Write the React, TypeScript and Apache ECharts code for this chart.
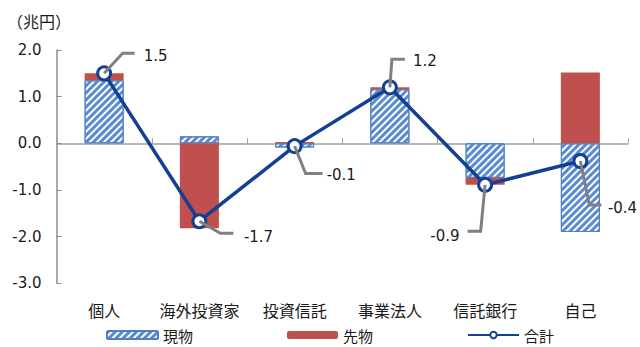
import React, { useEffect, useRef } from 'react';
import * as echarts from 'echarts';

const categories = ['個人', '海外投資家', '投資信託', '事業法人', '信託銀行', '自己'];
const spotValues = [1.35, 0.15, -0.09, 1.16, -0.74, -1.9];
const futuresValues = [0.15, -1.82, 0.03, 0.04, -0.15, 1.52];
const totalValues = [1.5, -1.67, -0.06, 1.2, -0.89, -0.38];
const seriesNames = ['現物', '先物', '合計'];
const unitLabel = '（兆円）';
const yMin = -3;
const yMax = 2;
const yInterval = 1;

// leader line layout per label (pixel offsets from the point): corner dx/dy, end dx, text dx/dy, align
const leaderLayout = [
  { cx: 18.5, cy: -20, ex: 30.5, tx: 39.5, ty: -17, align: 'left' },
  { cx: 21, cy: 12, ex: 34, tx: 44.5, ty: 16, align: 'left' },
  { cx: 11, cy: 27.5, ex: 28, tx: 32, ty: 29, align: 'left' },
  { cx: 2, cy: -28, ex: 15, tx: 23, ty: -26, align: 'left' },
  { cx: -4.5, cy: 46.5, ex: -17.5, tx: -25.5, ty: 51, align: 'right' },
  { cx: 9, cy: 44, ex: 21, tx: 27.5, ty: 46.7, align: 'left' },
];

const NAVY = '#143F93';
const RED = '#C0504D';
const BLUE = '#4F81BD';
const TEXT = '#1a1a1a';
const CJK = '"Noto Sans CJK JP", sans-serif';
const NUM = '"DejaVu Sans", "Noto Sans CJK JP", sans-serif';

export default function App() {
  const ref = useRef<HTMLDivElement>(null);
  useEffect(() => {
    if (!ref.current) return;
    const chart = echarts.init(ref.current, undefined, { renderer: 'svg' });
    const option: any = {
      animation: false,
      backgroundColor: '#ffffff',
      title: {
        text: unitLabel,
        left: 7,
        top: 13,
        padding: 0,
        textStyle: { fontSize: 16, fontWeight: 'normal', color: TEXT, fontFamily: CJK },
      },
      grid: { left: 56.5, right: 12, top: 50, bottom: 63.7, containLabel: false },
      legend: {
        data: seriesNames,
        left: 106,
        top: 327,
        padding: 0,
        itemWidth: 51,
        itemHeight: 8,
        itemGap: 94,
        textStyle: { fontSize: 15, lineHeight: 16, color: TEXT, fontFamily: CJK },
      },
      xAxis: [
        {
          type: 'category',
          data: categories,
          position: 'bottom',
          axisLine: { show: false, onZero: false },
          axisTick: { show: false },
          axisLabel: { interval: 0, margin: 19, fontSize: 16, color: TEXT, fontFamily: CJK },
        },
        {
          type: 'category',
          data: categories,
          position: 'bottom',
          axisLine: { show: true, onZero: true, lineStyle: { color: '#a0a0a0', width: 1.5 } },
          axisTick: { show: true, inside: true, interval: 0, length: 5, lineStyle: { color: '#a0a0a0', width: 1 } },
          axisLabel: { show: false },
        },
      ],
      yAxis: {
        type: 'value',
        min: yMin,
        max: yMax,
        interval: yInterval,
        axisLine: { show: true, lineStyle: { color: '#8c8c8c', width: 1.5 } },
        axisTick: { show: true, inside: true, length: 5, lineStyle: { color: '#8c8c8c' } },
        splitLine: { show: false },
        axisLabel: {
          margin: 15,
          fontSize: 15,
          color: TEXT,
          fontFamily: NUM,
          formatter: (v: number) => v.toFixed(1),
        },
      },
      series: [
        {
          name: seriesNames[0],
          type: 'bar',
          stack: 'total',
          barWidth: '41%',
          xAxisIndex: 0,
          data: spotValues,
          itemStyle: {
            color: '#ffffff',
            borderColor: BLUE,
            borderWidth: 1,
            decal: {
              symbol: 'rect',
              symbolSize: 1,
              color: '#5a8ad0',
              dashArrayX: [1, 0],
              dashArrayY: [2.5, 2],
              rotation: -Math.PI / 4,
            },
          },
        },
        {
          name: seriesNames[1],
          type: 'bar',
          stack: 'total',
          barWidth: '41%',
          xAxisIndex: 0,
          data: futuresValues,
          itemStyle: { color: RED },
        },
        {
          name: seriesNames[2],
          type: 'line',
          xAxisIndex: 0,
          data: totalValues,
          color: NAVY,
          symbol: 'circle',
          symbolSize: 13,
          lineStyle: { color: NAVY, width: 3.5 },
          itemStyle: { color: '#ffffff', borderColor: NAVY, borderWidth: 3 },
          z: 5,
        },
        {
          name: 'labels',
          type: 'custom',
          xAxisIndex: 0,
          z: 10,
          silent: true,
          data: totalValues.map((v, i) => [i, v]),
          encode: { x: 0, y: 1 },
          renderItem: (params: any, api: any) => {
            const i = params.dataIndex;
            const v = api.value(1) as number;
            const p = api.coord([api.value(0), v]);
            const L = leaderLayout[i];
            const corner = [p[0] + L.cx, p[1] + L.cy];
            const end = [p[0] + L.ex, p[1] + L.cy];
            return {
              type: 'group',
              children: [
                {
                  type: 'polyline',
                  shape: { points: [p, corner, end] },
                  style: { stroke: '#808080', lineWidth: 3, fill: null },
                },
                {
                  type: 'text',
                  x: p[0] + L.tx,
                  y: p[1] + L.ty,
                  style: {
                    text: v.toFixed(1),
                    fill: TEXT,
                    font: '15px "DejaVu Sans", sans-serif',
                    align: L.align,
                    verticalAlign: 'middle',
                  },
                },
              ],
            };
          },
        },
      ],
    };
    chart.setOption(option);
    return () => chart.dispose();
  }, []);
  return (
    <div
      ref={ref}
      style={{ position: 'fixed', left: 0, top: 0, width: 640, height: 347, background: '#fff' }}
    />
  );
}
